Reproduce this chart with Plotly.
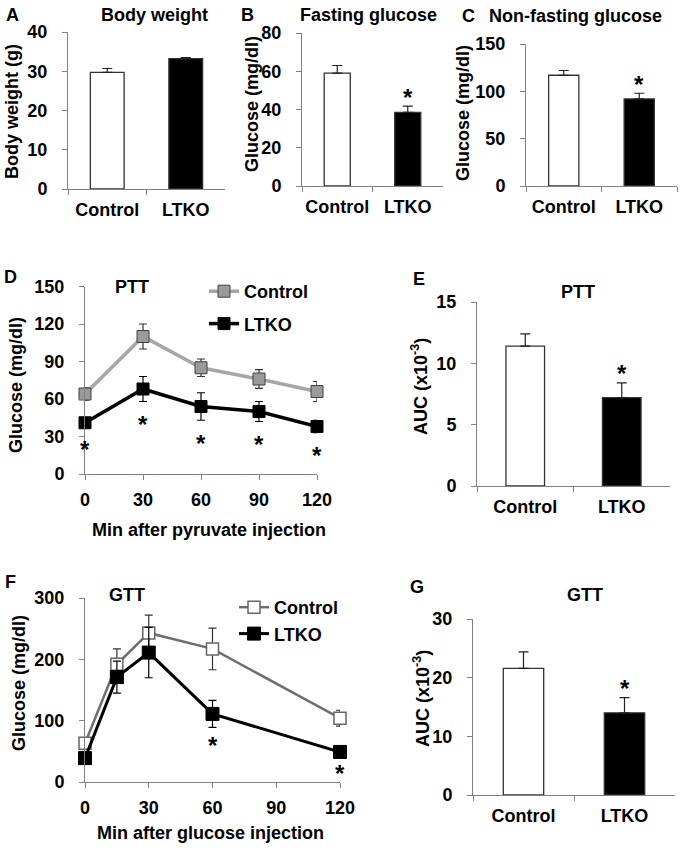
import plotly.graph_objects as go

W, H = 683, 851
FONT = "Arial, 'Liberation Sans', Helvetica, sans-serif"

# ---------------- data ----------------
groups = ["Control", "LTKO"]

body_weight = [29.7, 33.2]
body_weight_sem = [1.0, 0.3]
body_weight_sig = [False, False]

fasting_glucose = [59.0, 38.5]
fasting_glucose_sem = [4.0, 3.3]
fasting_glucose_sig = [False, True]

nonfasting_glucose = [117.0, 92.0]
nonfasting_glucose_sem = [5.0, 6.0]
nonfasting_glucose_sig = [False, True]

ptt_minutes = [0, 30, 60, 90, 120]
ptt_control = [64, 110, 85, 76, 66]
ptt_control_sem = [5, 10, 7, 7.5, 8]
ptt_ltko = [41, 68, 54, 50, 38]
ptt_ltko_sem = [3, 10, 11, 8, 5]
ptt_sig = [True, True, True, True, True]

ptt_auc = [11.4, 7.2]
ptt_auc_sem = [1.0, 1.2]
ptt_auc_sig = [False, True]

gtt_minutes = [0, 15, 30, 60, 120]
gtt_control = [63, 192, 243, 217, 104]
gtt_control_sem = [5, 25, 29, 34, 13]
gtt_ltko = [39, 171, 211, 111, 49]
gtt_ltko_sem = [4, 26, 41, 22, 6]
gtt_sig = [False, False, False, True, True]

gtt_auc = [21.6, 14.0]
gtt_auc_sem = [2.8, 2.6]
gtt_auc_sig = [False, True]

# ---------------- helpers ----------------
def px(x):
    return x / W

def py(y):
    return 1 - y / H

AXCOL = "#808080"
TICKFONT = dict(family=FONT, size=18, color="black", weight="bold")

def base_axis(**kw):
    d = dict(showline=True, linecolor=AXCOL, linewidth=1, ticks="outside",
             ticklen=5, tickcolor=AXCOL, tickwidth=1, showgrid=False,
             zeroline=False, tickfont=TICKFONT, fixedrange=True, automargin=False)
    d.update(kw)
    return d

fig = go.Figure()
annotations = []

def text(x, y, s, size=18, angle=0, xref="paper", yref="paper", **kw):
    d = dict(x=x, y=y, xref=xref, yref=yref, text=s, showarrow=False,
             textangle=angle, font=dict(family=FONT, size=size, color="black", weight="bold"),
             xanchor="center", yanchor="middle")
    d.update(kw)
    annotations.append(d)

def bar_panel(idx, means, sems, sig, width, xdom, ydom, yrange, dtick):
    xa = "x" if idx == 1 else f"x{idx}"
    ya = "y" if idx == 1 else f"y{idx}"
    fig.add_trace(go.Bar(
        x=groups, y=means, width=width, xaxis=xa, yaxis=ya,
        marker=dict(color=["white", "black"], line=dict(color="#333333", width=1.3)),
        error_y=dict(type="data", array=sems, arrayminus=[0] * len(sems), symmetric=False,
                     color="#222222", thickness=1.2, width=5),
        showlegend=False, hoverinfo="skip"))
    fig.layout[f"xaxis{idx}"] = base_axis(domain=[px(xdom[0]), px(xdom[1])], type="category",
                                          tickson="boundaries", range=[-0.5, 1.5], tickangle=0,
                                          anchor=ya, ticklabelstandoff=4)
    fig.layout[f"yaxis{idx}"] = base_axis(domain=[py(ydom[0]), py(ydom[1])], range=yrange,
                                          dtick=dtick, anchor=xa, ticklabelstandoff=11)
    for g, m, s, flag in zip(groups, means, sems, sig):
        if flag:
            text(g, m + s, "*", size=24, xref=xa, yref=ya, yanchor="middle", yshift=9)

# Panels A, B, C, E, G
bar_panel(1, body_weight, body_weight_sem, body_weight_sig, 0.43, (68, 225), (189, 32), [0, 40], 10)
bar_panel(2, fasting_glucose, fasting_glucose_sem, fasting_glucose_sig, 0.37, (302, 443), (186, 33), [0, 80], 20)
bar_panel(3, nonfasting_glucose, nonfasting_glucose_sem, nonfasting_glucose_sig, 0.4, (526, 677), (186, 44), [0, 150], 50)
bar_panel(5, ptt_auc, ptt_auc_sem, ptt_auc_sig, 0.4, (477, 670), (486, 302), [0, 15], 5)
bar_panel(7, gtt_auc, gtt_auc_sem, gtt_auc_sig, 0.4, (473, 675), (795, 619), [0, 30], 10)

# Panel D (PTT)
fig.add_trace(go.Scatter(
    x=ptt_minutes, y=ptt_control, name="Control", mode="lines+markers",
    line=dict(color="#a6a6a6", width=3.5),
    marker=dict(symbol="square", size=12, color="#9a9a9a", line=dict(color="#404040", width=1)),
    error_y=dict(type="data", array=ptt_control_sem, color="#333333", thickness=1.2, width=4),
    xaxis="x4", yaxis="y4", legend="legend", legendgroup="c", cliponaxis=False, hoverinfo="skip"))
fig.add_trace(go.Scatter(
    x=ptt_minutes, y=ptt_ltko, name="LTKO", mode="lines+markers",
    line=dict(color="black", width=3.5),
    marker=dict(symbol="square", size=12, color="black", line=dict(color="black", width=1)),
    error_y=dict(type="data", array=ptt_ltko_sem, color="black", thickness=1.2, width=4),
    xaxis="x4", yaxis="y4", legend="legend", legendgroup="l", cliponaxis=False, hoverinfo="skip"))
fig.layout["xaxis4"] = base_axis(domain=[px(85), px(317)], range=[0, 120],
                                 tickvals=[0, 30, 60, 90, 120], anchor="y4", ticklabelstandoff=4)
fig.layout["yaxis4"] = base_axis(domain=[py(474), py(286.5)], range=[0, 150], dtick=30,
                                 anchor="x4", ticklabelstandoff=11)
for t, m, s, flag in zip(ptt_minutes, ptt_ltko, ptt_ltko_sem, ptt_sig):
    if flag:
        text(t, m - s, "*", size=24, xref="x4", yref="y4", yshift=-23)

# Panel F (GTT)
fig.add_trace(go.Scatter(
    x=gtt_minutes, y=gtt_control, name="Control", mode="lines+markers",
    line=dict(color="#6e6e6e", width=2.5),
    marker=dict(symbol="square", size=12, color="white", line=dict(color="#666666", width=1.5)),
    error_y=dict(type="data", array=gtt_control_sem, color="#333333", thickness=1.2, width=4),
    xaxis="x6", yaxis="y6", legend="legend2", legendgroup="c2", cliponaxis=False, hoverinfo="skip"))
fig.add_trace(go.Scatter(
    x=gtt_minutes, y=gtt_ltko, name="LTKO", mode="lines+markers",
    line=dict(color="black", width=3),
    marker=dict(symbol="square", size=13, color="black", line=dict(color="black", width=1)),
    error_y=dict(type="data", array=gtt_ltko_sem, color="black", thickness=1.2, width=4),
    xaxis="x6", yaxis="y6", legend="legend2", legendgroup="l2", cliponaxis=False, hoverinfo="skip"))
fig.layout["xaxis6"] = base_axis(domain=[px(85), px(340)], range=[0, 120],
                                 tickvals=[0, 30, 60, 90, 120], anchor="y6", ticklabelstandoff=4)
fig.layout["yaxis6"] = base_axis(domain=[py(782), py(598)], range=[0, 300], dtick=100,
                                 anchor="x6", ticklabelstandoff=11)
for t, m, s, flag in zip(gtt_minutes, gtt_ltko, gtt_ltko_sem, gtt_sig):
    if flag:
        text(t, m - s, "*", size=24, xref="x6", yref="y6", yshift=-18)

# ---------------- text ----------------
# panel letters
for letter, x, y in [("A", 12, 15), ("B", 247, 15), ("C", 468, 16), ("D", 10, 277),
                     ("E", 419, 279), ("F", 10, 582), ("G", 417, 587)]:
    text(px(x), py(y), letter, size=18)

# panel titles
for s, x, y in [("Body weight", 154, 15), ("Fasting glucose", 368, 15),
                ("Non-fasting glucose", 575, 16), ("PTT", 132, 287), ("PTT", 578, 292),
                ("GTT", 127, 595), ("GTT", 585, 595)]:
    text(px(x), py(y), s, size=18)

# y-axis titles
for s, x, y in [("Body weight (g)", 12, 112), ("Glucose (mg/dl)", 252, 104),
                ("Glucose (mg/dl)", 463, 113), ("Glucose (mg/dl)", 16, 385),
                ("AUC (x10<sup>-3</sup>)", 420, 387), ("Glucose (mg/dl)", 19, 683),
                ("AUC (x10<sup>-3</sup>)", 421, 699)]:
    text(px(x), py(y), s, size=18, angle=-90)

# x-axis titles
text(px(209), py(530), "Min after pyruvate injection", size=18)
text(px(210), py(833), "Min after glucose injection", size=18)

legend_font = dict(family=FONT, size=18, color="black", weight="bold")
fig.update_layout(
    width=W, height=H, margin=dict(l=0, r=0, t=0, b=0, pad=0, autoexpand=False),
    paper_bgcolor="white", plot_bgcolor="white",
    annotations=annotations,
    legend=dict(x=px(204), y=py(273), xanchor="left", yanchor="top", font=legend_font,
                bgcolor="rgba(0,0,0,0)", tracegroupgap=6, itemwidth=30),
    legend2=dict(x=px(234), y=py(589), xanchor="left", yanchor="top", font=legend_font,
                 bgcolor="rgba(0,0,0,0)", tracegroupgap=0, itemwidth=30),
    bargap=0.5,
)

fig.write_html("out.html", include_plotlyjs=True, full_html=True,
               config={"displayModeBar": False},
               post_script="document.body.style.margin='0';")
